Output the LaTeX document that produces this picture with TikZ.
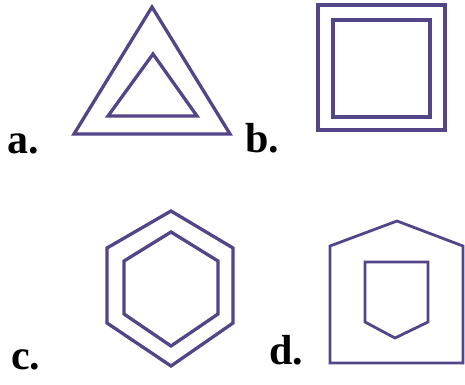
\documentclass[tikz,border=0pt]{standalone}
\usepackage{fontspec}
\setmainfont{Liberation Serif}
\definecolor{shp}{RGB}{84,68,136}
\tikzset{
  outl/.style={draw=shp, line width=3.3pt, line join=miter},
  thinoutl/.style={draw=shp, line width=2.8pt, line join=miter},
  lbl/.style={anchor=base west, inner sep=0pt, font=\fontsize{42}{42}\selectfont\bfseries, text=black}
}
\begin{document}
\begin{tikzpicture}[x=1pt,y=-1pt]
\useasboundingbox (0,0) rectangle (465,384);
% a
\draw[outl] (152,7) -- (230,134) -- (74,134) -- cycle;
\draw[outl] (153,54) -- (197,116) -- (108,116) -- cycle;
\node[lbl] (la) at (7,153) {a.};
% b
\draw[outl] (318,5) rectangle (445,130);
\draw[outl] (333,20) rectangle (430,117);
\node[lbl] (lb) at (245,152) {b.};
% c
\draw[outl] (171,211) -- (233,248) -- (233,323) -- (171,366) -- (107,323) -- (107,248) -- cycle;
\draw[outl] (171,232) -- (218,261) -- (218,314) -- (171,346) -- (124,314) -- (124,261) -- cycle;
\node[lbl] (lc) at (11,369) {c.};
% d
\draw[thinoutl] (397,221) -- (463,246) -- (463,363) -- (330,363) -- (330,246) -- cycle;
\draw[thinoutl] (365,262) -- (428,262) -- (428,322) -- (395,338) -- (365,322) -- cycle;
\node[lbl] (ld) at (269,364) {d.};
\end{tikzpicture}
\end{document}
